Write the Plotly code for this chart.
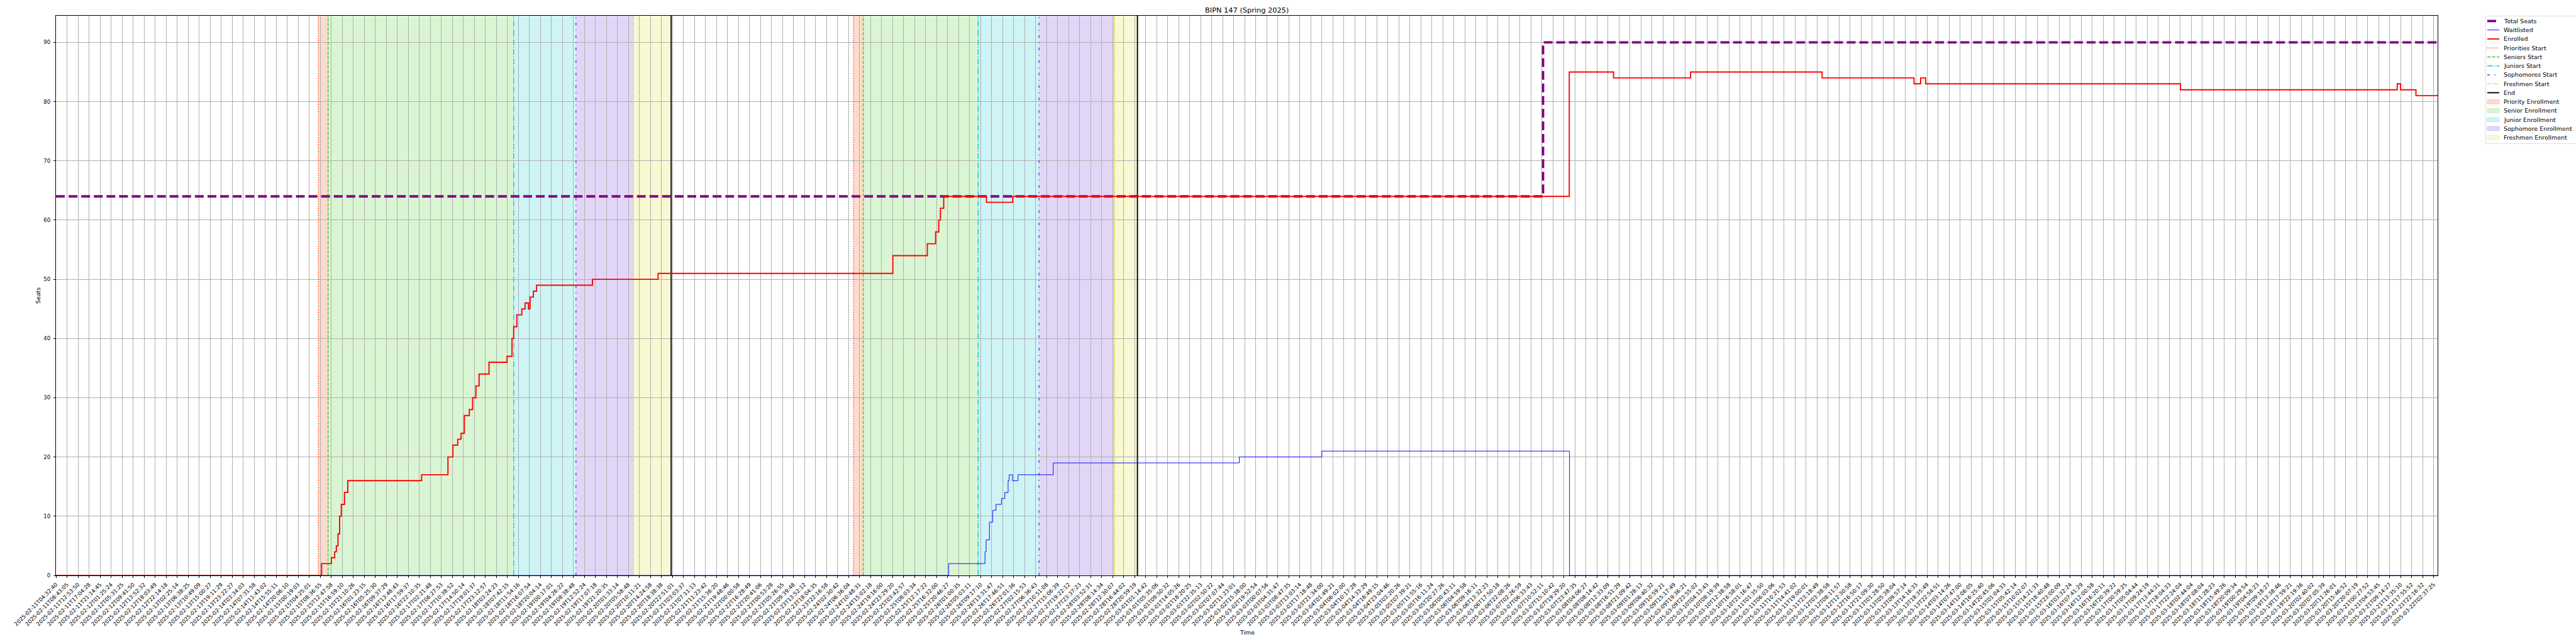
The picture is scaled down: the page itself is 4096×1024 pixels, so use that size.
import plotly.graph_objects as go

# ---------------- data (x = sample position in tick units) ----------------
tick_labels = [
    "2025-02-11T04:32:40", "2025-02-11T08:43:05", "2025-02-11T12:53:50", "2025-02-11T17:04:28",
    "2025-02-11T21:14:45", "2025-02-12T01:25:24", "2025-02-12T05:31:25", "2025-02-12T09:41:50",
    "2025-02-12T13:52:32", "2025-02-12T18:03:49", "2025-02-12T22:14:18", "2025-02-13T02:25:14",
    "2025-02-13T06:38:25", "2025-02-13T10:49:09", "2025-02-13T15:00:27", "2025-02-13T19:11:29",
    "2025-02-13T23:22:27", "2025-02-14T03:34:03", "2025-02-14T07:31:58", "2025-02-14T11:43:02",
    "2025-02-14T15:55:11", "2025-02-14T20:06:10", "2025-02-15T00:19:03", "2025-02-15T04:25:01",
    "2025-02-15T08:36:55", "2025-02-15T12:47:58", "2025-02-15T16:59:10", "2025-02-15T21:10:26",
    "2025-02-16T01:23:15", "2025-02-16T05:25:30", "2025-02-16T09:37:29", "2025-02-16T13:48:43",
    "2025-02-16T17:59:37", "2025-02-16T22:10:35", "2025-02-17T02:21:48", "2025-02-17T06:27:53",
    "2025-02-17T10:38:52", "2025-02-17T14:50:14", "2025-02-17T19:01:37", "2025-02-17T23:12:57",
    "2025-02-18T03:24:23", "2025-02-18T07:42:15", "2025-02-18T11:54:16", "2025-02-18T16:07:54",
    "2025-02-18T20:04:14", "2025-02-19T00:17:01", "2025-02-19T04:26:22", "2025-02-19T08:38:48",
    "2025-02-19T12:52:24", "2025-02-19T17:07:18", "2025-02-19T21:20:35", "2025-02-20T01:33:14",
    "2025-02-20T05:58:48", "2025-02-20T10:11:21", "2025-02-20T14:24:58", "2025-02-20T18:38:38",
    "2025-02-20T22:51:01", "2025-02-21T03:03:37", "2025-02-21T07:11:13", "2025-02-21T11:23:42",
    "2025-02-21T15:36:20", "2025-02-21T19:48:46", "2025-02-22T00:00:58", "2025-02-22T16:28:49",
    "2025-02-22T20:41:06", "2025-02-23T00:53:28", "2025-02-23T05:26:55", "2025-02-23T09:39:48",
    "2025-02-23T13:52:12", "2025-02-23T18:04:35", "2025-02-23T22:16:58", "2025-02-24T02:30:42",
    "2025-02-24T06:36:04", "2025-02-24T10:48:31", "2025-02-24T15:02:18", "2025-02-24T19:16:00",
    "2025-02-24T23:29:20", "2025-02-25T03:42:57", "2025-02-25T08:03:34", "2025-02-25T12:17:22",
    "2025-02-25T16:32:00", "2025-02-25T20:46:27", "2025-02-26T01:00:35", "2025-02-26T05:03:11",
    "2025-02-26T09:17:10", "2025-02-26T13:31:47", "2025-02-26T17:46:51", "2025-02-26T22:01:36",
    "2025-02-27T02:15:53", "2025-02-27T06:36:43", "2025-02-27T10:51:08", "2025-02-27T15:06:39",
    "2025-02-27T19:22:12", "2025-02-27T23:37:23", "2025-02-28T03:52:31", "2025-02-28T08:14:34",
    "2025-02-28T12:30:07", "2025-02-28T16:44:02", "2025-02-28T20:59:19", "2025-03-01T01:14:42",
    "2025-03-01T05:35:06", "2025-03-01T09:50:32", "2025-03-01T14:05:26", "2025-03-01T18:20:25",
    "2025-03-01T22:35:13", "2025-03-02T02:50:22", "2025-03-02T07:07:44", "2025-03-02T11:23:01",
    "2025-03-02T15:38:00", "2025-03-02T19:52:54", "2025-03-03T00:07:56", "2025-03-03T04:31:47",
    "2025-03-03T08:47:35", "2025-03-03T13:03:14", "2025-03-03T17:18:48", "2025-03-03T21:34:00",
    "2025-03-04T01:49:21", "2025-03-04T06:02:00", "2025-03-04T10:17:28", "2025-03-04T14:33:29",
    "2025-03-04T18:49:15", "2025-03-04T23:04:46", "2025-03-05T03:20:26", "2025-03-05T07:39:21",
    "2025-03-05T11:55:16", "2025-03-05T16:11:24", "2025-03-05T20:27:26", "2025-03-06T00:43:11",
    "2025-03-06T04:59:58", "2025-03-06T09:16:11", "2025-03-06T13:32:23", "2025-03-06T17:50:18",
    "2025-03-06T22:08:26", "2025-03-07T02:26:59", "2025-03-07T06:33:43", "2025-03-07T10:52:11",
    "2025-03-07T15:10:42", "2025-03-07T19:29:20", "2025-03-07T23:47:35", "2025-03-08T04:06:27",
    "2025-03-08T08:14:42", "2025-03-08T12:33:09", "2025-03-08T16:51:29", "2025-03-08T21:09:42",
    "2025-03-09T01:28:13", "2025-03-09T06:40:32", "2025-03-09T10:59:21", "2025-03-09T15:17:49",
    "2025-03-09T19:36:21", "2025-03-09T23:55:02", "2025-03-10T04:13:43", "2025-03-10T08:19:39",
    "2025-03-10T12:38:58", "2025-03-10T16:58:01", "2025-03-10T21:16:47", "2025-03-11T01:35:50",
    "2025-03-11T06:03:06", "2025-03-11T10:21:53", "2025-03-11T14:41:02", "2025-03-11T19:00:01",
    "2025-03-11T23:18:49", "2025-03-12T03:38:58", "2025-03-12T08:11:57", "2025-03-12T12:30:58",
    "2025-03-12T16:50:17", "2025-03-12T21:09:30", "2025-03-13T01:28:50", "2025-03-13T05:38:04",
    "2025-03-13T09:57:14", "2025-03-13T14:16:33", "2025-03-13T18:35:49", "2025-03-13T22:54:51",
    "2025-03-14T03:14:26", "2025-03-14T07:47:00", "2025-03-14T12:06:05", "2025-03-14T16:25:40",
    "2025-03-14T20:45:06", "2025-03-15T01:04:33", "2025-03-15T05:42:14", "2025-03-15T10:02:07",
    "2025-03-15T14:21:33", "2025-03-15T18:40:48", "2025-03-15T23:00:09", "2025-03-16T03:32:24",
    "2025-03-16T07:41:29", "2025-03-16T12:00:58", "2025-03-16T16:20:11", "2025-03-16T20:39:22",
    "2025-03-17T00:59:25", "2025-03-17T05:04:44", "2025-03-17T09:24:19", "2025-03-17T13:44:31",
    "2025-03-17T18:04:33", "2025-03-17T22:24:04", "2025-03-18T02:44:04", "2025-03-18T07:08:04",
    "2025-03-18T11:28:23", "2025-03-18T15:49:26", "2025-03-18T20:09:34", "2025-03-19T00:29:54",
    "2025-03-19T04:58:23", "2025-03-19T09:18:27", "2025-03-19T13:38:46", "2025-03-19T17:59:21",
    "2025-03-19T22:19:36", "2025-03-20T02:40:02", "2025-03-20T07:05:39", "2025-03-20T11:26:01",
    "2025-03-20T15:46:52", "2025-03-20T20:07:19", "2025-03-21T00:27:52", "2025-03-21T04:53:45",
    "2025-03-21T09:14:27", "2025-03-21T13:35:10", "2025-03-21T17:55:52", "2025-03-21T22:16:32",
    "2025-03-22T02:37:25",
]
tick_pos = list(range(len(tick_labels)))
x_end = 216.37

seats_x = [0, 135.1, x_end]
seats_y = [64, 90, 90]

wait_x = [0, 81.1, 84.4, 84.5, 84.8, 85.1, 85.4, 85.9, 86.2, 86.5, 86.6, 86.9, 87.4,
          90.6, 107.5, 115.0, 137.5, x_end]
wait_y = [0, 2, 4, 6, 9, 11, 12, 13, 14, 16, 17, 16, 17, 19, 20, 21, 0, 0]

enr_x = [0, 24.13, 25.02, 25.32, 25.47, 25.62, 25.77, 25.92, 26.21, 26.51,
         33.22, 35.61, 36.06, 36.50, 36.80, 37.10, 37.55, 37.85, 38.15, 38.44,
         39.34, 40.98, 41.43, 41.58, 41.87, 42.32, 42.62, 42.92, 43.07, 43.37,
         43.66, 48.74, 54.70, 76.03, 79.16, 79.91, 80.2, 80.35, 80.65, 84.53,
         86.92, 137.48, 141.5, 148.5, 160.45, 168.8, 169.4, 169.85, 193.0, 212.7,
         213.0, 214.4, x_end]
enr_y = [0, 2, 3, 4, 5, 7, 10, 12, 14, 16,
         17, 20, 22, 23, 24, 27, 28, 30, 32, 34,
         36, 37, 40, 42, 44, 45, 46, 45, 47, 48,
         49, 50, 51, 54, 56, 58, 60, 62, 64, 63,
         64, 85, 84, 85, 84, 83, 84, 83, 82, 83,
         82, 81, 81]

# phase boundaries for the two enrollment passes
priority_start = [23.83, 72.45]
senior_start = [24.72, 73.34]
junior_start = [41.58, 83.78]
sophomore_start = [47.24, 89.30]
freshmen_start = [52.46, 96.16]
end_times = [55.89, 98.25]

# ---------------- styling ----------------
S = 0.682
PL, PR, PT, PB = 89, 220, 25, 109
W, H = 4096, 1024
PW, PH = W - PL - PR, H - PT - PB
FONT = "DejaVu Sans"
PT2PX = 1.389 * S
FS = 10 * PT2PX
FS_TICK = 9 * PT2PX

def px(v):
    return (v - PL) / PW

def py(v):
    return (PT + PH - v) / PH

c_pri = "#ff4500"
c_sen = "#44cc22"
c_jun = "#11c8d0"
c_sop = "#7030d8"
c_fre = "#dddd22"

def dash(*vals):
    return ",".join("%.2fpx" % (v * PT2PX) for v in vals)

line_w = 1.5 * PT2PX
styles = {
    "Priorities Start": (c_pri, dash(1.5, 2.475)),
    "Seniors Start": (c_sen, dash(5.55, 2.4)),
    "Juniors Start": (c_jun, dash(9.6, 2.4, 1.5, 2.4)),
    "Sophomores Start": (c_sop, dash(4.5, 7.5, 1.5, 7.5)),
    "Freshmen Start": (c_fre, dash(4.5, 1.5, 1.5, 1.5, 1.5, 1.5)),
}
seats_dash = dash(14.8, 6.4)

def rgba(hexc, a):
    h = hexc.lstrip("#")
    return "rgba(%d,%d,%d,%.2f)" % (int(h[0:2], 16), int(h[2:4], 16), int(h[4:6], 16), a)

fig = go.Figure()

# shaded phases
spans = [
    (priority_start, senior_start, c_pri),
    (senior_start, junior_start, c_sen),
    (junior_start, sophomore_start, c_jun),
    (sophomore_start, freshmen_start, c_sop),
    (freshmen_start, end_times, c_fre),
]
for starts, stops, col in spans:
    for a, b in zip(starts, stops):
        fig.add_shape(type="rect", xref="x", yref="paper", x0=a, x1=b, y0=0, y1=1,
                      fillcolor=rgba(col, 0.2), line=dict(width=0), layer="below")

Y_MAX = 94.5
# vertical markers
for name, xs in [("Priorities Start", priority_start), ("Seniors Start", senior_start),
                 ("Juniors Start", junior_start), ("Sophomores Start", sophomore_start),
                 ("Freshmen Start", freshmen_start)]:
    col, dsh = styles[name]
    for xv in xs:
        fig.add_trace(go.Scatter(x=[xv, xv], y=[0, Y_MAX], mode="lines", showlegend=False,
                                 line=dict(color=col, width=line_w, dash=dsh), hoverinfo="skip"))
for xv in end_times:
    fig.add_trace(go.Scatter(x=[xv, xv], y=[0, Y_MAX], mode="lines", showlegend=False,
                             line=dict(color="black", width=2 * PT2PX), hoverinfo="skip"))

# data lines
fig.add_trace(go.Scatter(x=seats_x, y=seats_y, mode="lines", name="Total Seats", showlegend=False,
                         line=dict(color="purple", width=4 * PT2PX, shape="hv", dash=seats_dash)))
fig.add_trace(go.Scatter(x=wait_x, y=wait_y, mode="lines", name="Waitlisted", showlegend=False,
                         line=dict(color="blue", width=1 * PT2PX, shape="hv")))
fig.add_trace(go.Scatter(x=enr_x, y=enr_y, mode="lines", name="Enrolled", showlegend=False,
                         line=dict(color="red", width=2 * PT2PX, shape="hv")))

# ---------------- manual legend (matplotlib-like frame) ----------------
lg_x0, lg_y0, lg_y1, lg_x1 = 5795 * S, 37.3 * S, 335 * S, W + 10
r = 0.2 * FS
path = ("M %f,%f L %f,%f L %f,%f L %f,%f Q %f,%f %f,%f L %f,%f Q %f,%f %f,%f Z" % (
    px(lg_x0 + r), py(lg_y0), px(lg_x1), py(lg_y0), px(lg_x1), py(lg_y1),
    px(lg_x0 + r), py(lg_y1), px(lg_x0), py(lg_y1), px(lg_x0), py(lg_y1 - r),
    px(lg_x0), py(lg_y0 + r), px(lg_x0), py(lg_y0), px(lg_x0 + r), py(lg_y0)))
fig.add_shape(type="path", xref="paper", yref="paper", path=path,
              fillcolor="rgba(255,255,255,0.8)", line=dict(color="#cccccc", width=1 * S),
              layer="above")
h0, h1, tx = 5799 * S, 5827 * S, 5836 * S
row0, drow = 49 * S, 20.9 * S
entries = [
    ("Total Seats", "line", "purple", 4 * PT2PX, seats_dash),
    ("Waitlisted", "line", "blue", 1 * PT2PX, "solid"),
    ("Enrolled", "line", "red", 2 * PT2PX, "solid"),
    ("Priorities Start", "line", c_pri, line_w, styles["Priorities Start"][1]),
    ("Seniors Start", "line", c_sen, line_w, styles["Seniors Start"][1]),
    ("Juniors Start", "line", c_jun, line_w, styles["Juniors Start"][1]),
    ("Sophomores Start", "line", c_sop, line_w, styles["Sophomores Start"][1]),
    ("Freshmen Start", "line", c_fre, line_w, styles["Freshmen Start"][1]),
    ("End", "line", "black", 2 * PT2PX, "solid"),
    ("Priority Enrollment", "patch", c_pri, 0, None),
    ("Senior Enrollment", "patch", c_sen, 0, None),
    ("Junior Enrollment", "patch", c_jun, 0, None),
    ("Sophomore Enrollment", "patch", c_sop, 0, None),
    ("Freshmen Enrollment", "patch", c_fre, 0, None),
]
for i, (label, kind, col, w, dsh) in enumerate(entries):
    yc = row0 + i * drow
    if kind == "line":
        fig.add_shape(type="line", xref="paper", yref="paper", x0=px(h0), x1=px(h1),
                      y0=py(yc), y1=py(yc), line=dict(color=col, width=w, dash=dsh), layer="above")
    else:
        fig.add_shape(type="rect", xref="paper", yref="paper", x0=px(h0), x1=px(h1),
                      y0=py(yc + 5 * S), y1=py(yc - 5 * S), fillcolor=rgba(col, 0.2),
                      line=dict(color=rgba(col, 0.2), width=1), layer="above")
    fig.add_annotation(text=label, xref="paper", yref="paper", x=px(tx), y=py(yc),
                       xanchor="left", yanchor="middle", showarrow=False, borderpad=0,
                       font=dict(family=FONT, size=FS, color="black"))

# titles
fig.add_annotation(text="BIPN 147 (Spring 2025)", xref="paper", yref="paper", x=0.5, y=py(15.8),
                   xanchor="center", yanchor="middle", showarrow=False,
                   font=dict(family=FONT, size=12 * PT2PX, color="black"))
fig.add_annotation(text="Time", xref="paper", yref="paper", x=0.5, y=py(1475 * S),
                   xanchor="center", yanchor="middle", showarrow=False,
                   font=dict(family=FONT, size=FS, color="black"))
fig.add_annotation(text="Seats", xref="paper", yref="paper", x=px(88 * S), y=0.5,
                   xanchor="center", yanchor="middle", textangle=-90, showarrow=False,
                   font=dict(family=FONT, size=FS, color="black"))

axis_common = dict(showgrid=True, gridcolor="#b0b0b0", gridwidth=0.8 * PT2PX,
                   showline=True, linecolor="black", linewidth=0.8 * PT2PX, mirror=True,
                   ticks="outside", ticklen=3.5 * PT2PX, tickwidth=0.8 * PT2PX,
                   tickcolor="black", zeroline=False,
                   tickfont=dict(family=FONT, size=FS_TICK, color="black"))

fig.update_layout(
    width=W, height=H, margin=dict(l=PL, r=PR, t=PT, b=PB, autoexpand=False),
    paper_bgcolor="white", plot_bgcolor="white", showlegend=False,
    xaxis=dict(range=[0, x_end], tickmode="array", tickvals=tick_pos, ticktext=tick_labels,
               tickangle=-45, ticklabelstandoff=2, **axis_common),
    yaxis=dict(range=[0, Y_MAX], tickmode="array", tickvals=list(range(0, 91, 10)),
               ticktext=[str(v) for v in range(0, 91, 10)], ticklabelstandoff=3, **axis_common),
)

fig.write_html("out.html", config={"displayModeBar": False},
               post_script="document.body.style.margin='0';document.body.style.padding='0';"
                           "document.body.style.overflow='hidden';")
